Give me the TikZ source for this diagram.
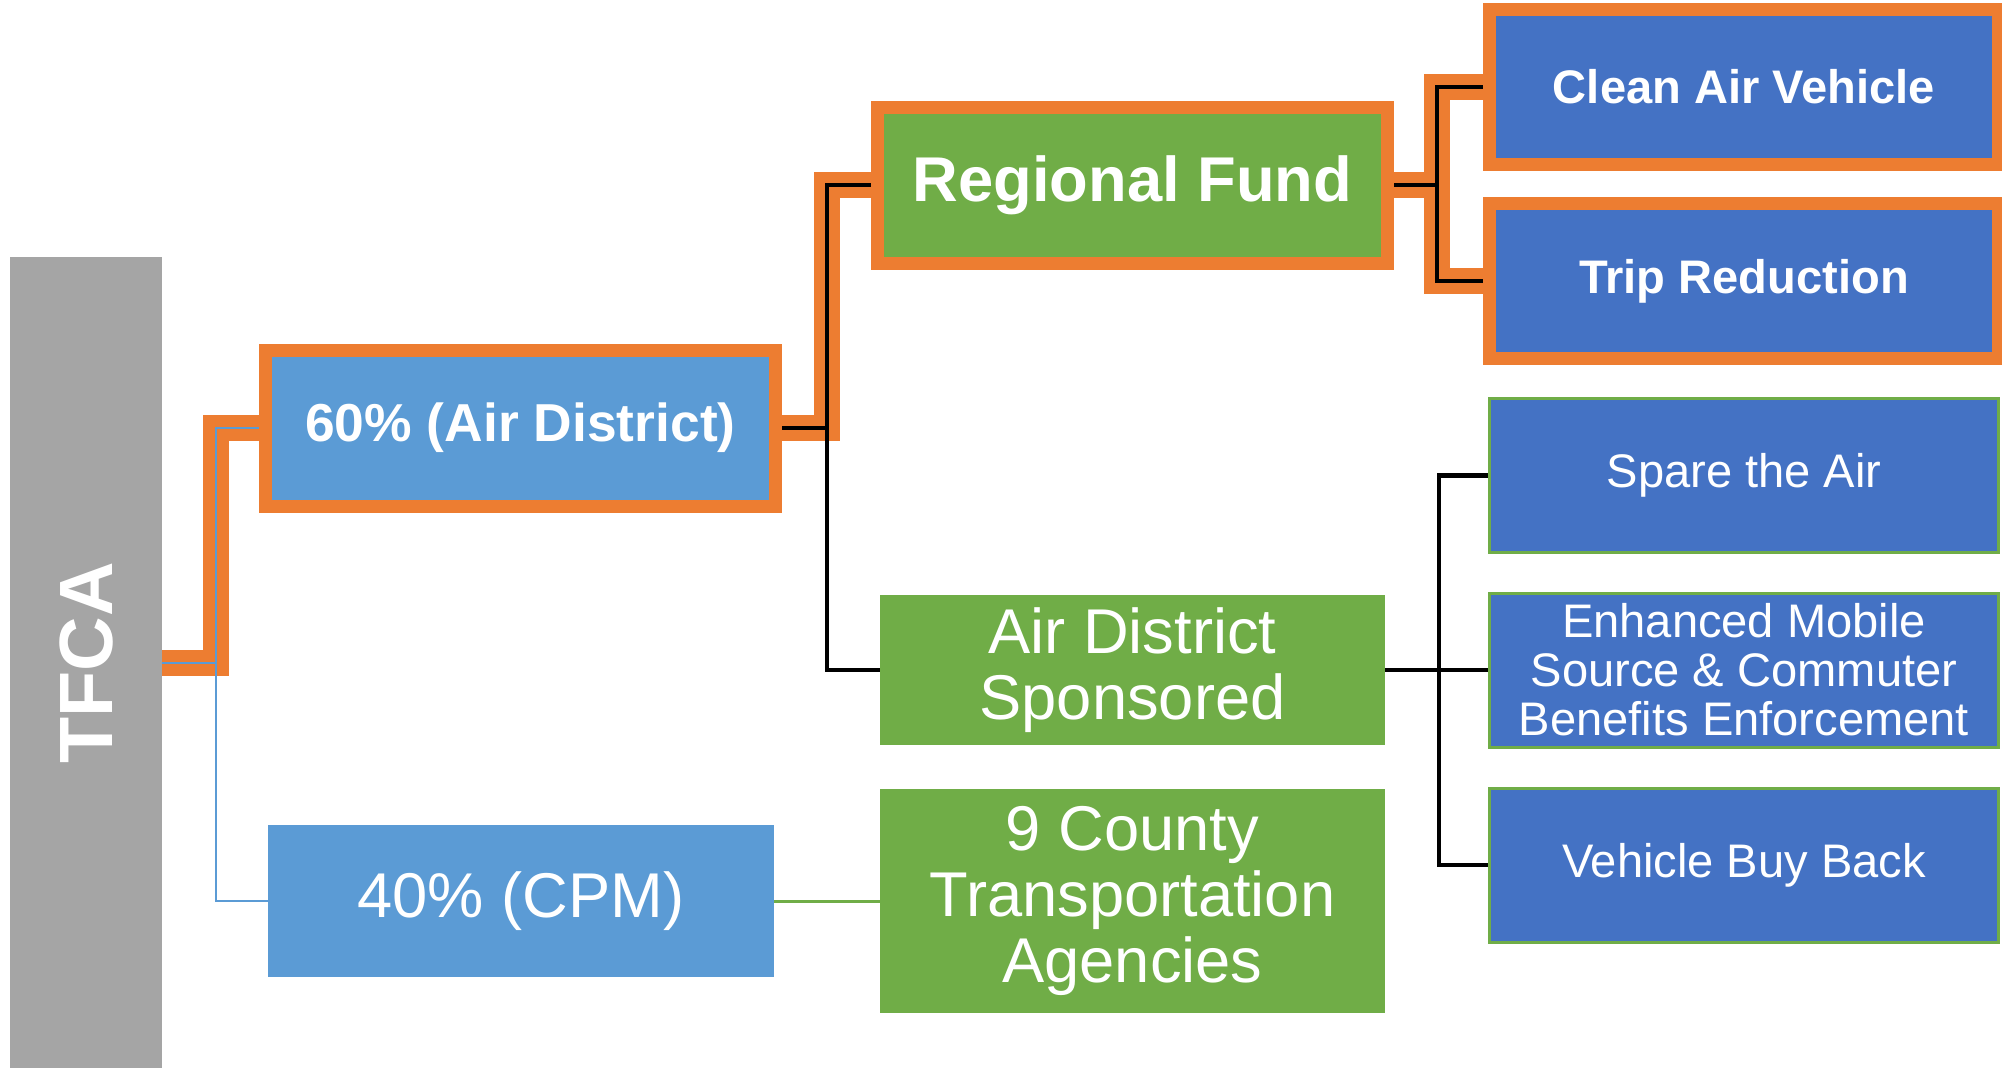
\documentclass[tikz,border=0pt]{standalone}
\usepackage{fontspec}
\setmainfont{Liberation Sans}
\usetikzlibrary{positioning}
\usetikzlibrary{calc}
\definecolor{orng}{HTML}{ED7D31}
\definecolor{grn}{HTML}{70AD47}
\definecolor{blu}{HTML}{4472C4}
\definecolor{lblu}{HTML}{5B9BD5}
\definecolor{gry}{HTML}{A5A5A5}

\begin{document}
\begin{tikzpicture}[
    x = 0.1mm, y = -0.1mm,
    box/.style = {
      rectangle, inner sep = 0pt, outer sep = 0pt, text = white, align = center,
      font = \fontsize{18}{18.8}\selectfont,
    },
    hot/.style = {
      box, draw = orng, line width = 1.3mm, outer sep = 0.65mm,
      font = \bfseries\fontsize{13.4}{14}\selectfont,
    },
    leaf/.style = {
      box, fill = blu, draw = grn, line width = 0.3mm, outer sep = 0.15mm,
      minimum width = 50.9mm, minimum height = 15.4mm,
      font = \fontsize{13.4}{13.9}\selectfont,
    },
  ]
  \path[fill = white] (0,0) rectangle (2002,1067);
  \useasboundingbox (0,0) rectangle (2002,1067);

  \node (tfca) [box, fill = gry, minimum width = 15.2mm, minimum height = 81.2mm,
    font = \bfseries\fontsize{21.5}{22}\selectfont] at (86,663) {\rotatebox{90}{TFCA}};

  \node (p60) [hot, fill = lblu, minimum width = 51mm, minimum height = 15.6mm,
    font = \bfseries\fontsize{15.2}{16}\selectfont] at (520.5,428) {60\% (Air District)};
  \node (p40) [box, fill = lblu, minimum width = 50.6mm, minimum height = 15.2mm]
    at (521,901) {40\% (CPM)};

  \node (rf) [hot, fill = grn, minimum width = 51mm, minimum height = 15.6mm,
    font = \bfseries\fontsize{18}{19}\selectfont] at (1132.5,185) {Regional Fund};
  \node (ads) [box, fill = grn, minimum width = 50.5mm, minimum height = 15mm]
    at (1132.5,670) {Air District\\Sponsored};
  \node (cty) [box, fill = grn, minimum width = 50.5mm, minimum height = 22.4mm]
    at (1132.5,901) {9 County\\Transportation\\Agencies};

  \node (cav) [hot, fill = blu, minimum width = 50.9mm, minimum height = 15.5mm]
    at (1744,87) {Clean Air Vehicle};
  \node (trip) [hot, fill = blu, minimum width = 50.9mm, minimum height = 15.5mm]
    at (1744,281) {Trip Reduction};
  \node (sta) [leaf] at (1744,475.5) {Spare the Air};
  \node (emsc) [leaf] at (1744,670) {Enhanced Mobile\\Source \& Commuter\\Benefits Enforcement};
  \node (vbb) [leaf] at (1744,865) {Vehicle Buy Back};

  \begin{scope}[draw = orng, line width = 2.6mm]
    \draw (tfca.east) -- ++(54,0) |- (p60.west);
    \draw (p60.east) -- ++(45,0) |- (rf.west);
    \draw (rf.east) -- ++(43,0) |- (cav.west);
    \draw (rf.east) -- ++(43,0) |- (trip.west);
  \end{scope}

  \begin{scope}[line width = 0.42mm]
    \draw (p60.east) -- ++(45,0) coordinate (jb) |- (rf.west);
    \draw (jb) |- (ads.west);
    \draw (rf.east) -- ++(43,0) coordinate (jc) |- (cav.west);
    \draw (jc) |- (trip.west);
    \draw (ads.east) -- ++(54,0) coordinate (jd) |- (sta.west);
    \draw (jd) -- (emsc.west);
    \draw (jd) |- (vbb.west);
  \end{scope}

  \draw[lblu, line width = 0.2mm] (tfca.east) -- ++(54,0) coordinate (ja) |- (p60.west);
  \draw[lblu, line width = 0.2mm] (ja) |- (p40.west);
  \draw[grn, line width = 0.3mm] (p40.east) -- (cty.west);

\end{tikzpicture}
\end{document}
